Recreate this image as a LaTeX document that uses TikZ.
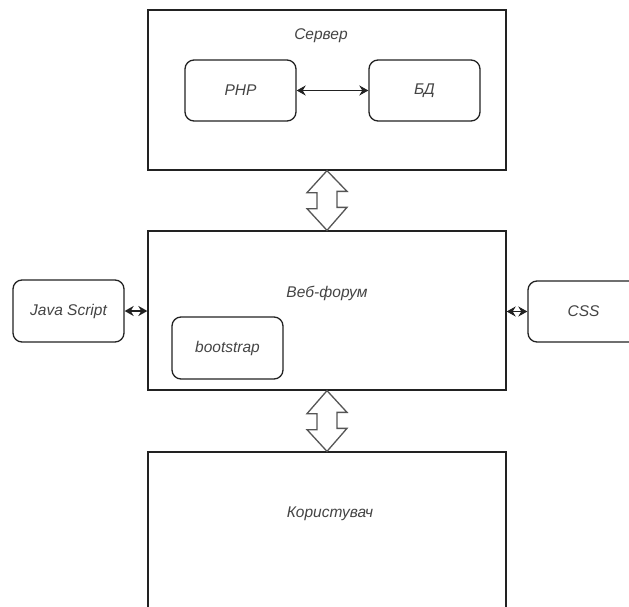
\documentclass[tikz,border=0pt]{standalone}
\usepackage{fontspec}
\setmainfont{Liberation Sans}
\usetikzlibrary{arrows.meta}
\definecolor{txt}{HTML}{444444}
\definecolor{ln}{HTML}{222222}
\definecolor{blk}{HTML}{555555}
\tikzset{
  bigbox/.style={draw=ln, line width=1.3pt, minimum width=358pt, minimum height=160pt, inner sep=0pt},
  smallbox/.style={draw=ln, line width=1.3pt, rounded corners=9pt, minimum width=111pt, minimum height=61pt, inner sep=0pt, font=\itshape\fontsize{15.5}{18}\selectfont, text=txt},
  lbl/.style={font=\itshape\fontsize{15.5}{18}\selectfont, text=txt, inner sep=0pt},
  link/.style={line width=1.6pt, draw=ln, {Stealth[length=9pt,width=10pt]}-{Stealth[length=9pt,width=10pt]}},
  blockarrow/.style={draw=blk, line width=1.3pt, line join=miter, fill=white}
}
\begin{document}
\begin{tikzpicture}[x=1pt,y=-1pt]
\useasboundingbox (0,0) rectangle (629,607);
\clip (0,0) rectangle (629,607);
\fill[white] (0,0) rectangle (629,607);
% server
\node[bigbox] (server) at (327,90) {};
\node[lbl] (serverlbl) at (321,36) {Сервер};
\node[smallbox] (php) at (240.5,90.5) {PHP};
\node[smallbox] (bd) at (424.5,90.5) {БД};
\draw[link] (php.east) -- (bd.west);
% web
\node[bigbox, minimum height=159pt] (web) at (327,310.5) {};
\node[lbl] (weblbl) at (327,293) {Веб-форум};
\node[smallbox, minimum height=62pt] (boot) at (227.5,348) {bootstrap};
\node[smallbox, minimum height=62pt] (js) at (68.5,311) {Java Script};
\node[smallbox] (css) at (583.5,311.5) {CSS};
\draw[link] (js.east) -- (web.west |- js.east);
\draw[link] (web.east |- css.west) -- (css.west);
% user
\node[bigbox, minimum height=200pt] (user) at (327,552) {};
\node[lbl] (userlbl) at (330,514) {Користувач};
% block arrows
\draw[blockarrow] (server.south) -- ++(-20,22) -- ++(10,0) -- ++(0,16) -- ++(-10,0) -- (web.north) -- ++(20,-23) -- ++(-10,0) -- ++(0,-16) -- ++(10,0) -- cycle;
\draw[blockarrow] (web.south) -- ++(-20,23) -- ++(10,0) -- ++(0,16) -- ++(-10,0) -- (user.north) -- ++(20,-23) -- ++(-10,0) -- ++(0,-16) -- ++(10,0) -- cycle;
\end{tikzpicture}
\end{document}
